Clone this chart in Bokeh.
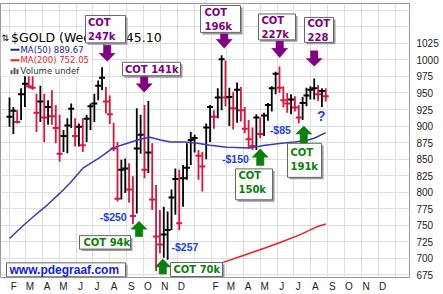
import pandas as pd
from bokeh.plotting import figure
from bokeh.models import FixedTicker, Label, ColumnDataSource
from bokeh.core.properties import value
from bokeh.embed import file_html
from bokeh.resources import INLINE

# ---------------- data ----------------
first_week = "2008-02-01"   # weekly bars, week ending Friday
n_weeks = 83
highs = [943, 929, 924, 957, 980, 995, 1033, 949, 961, 949, 939, 954, 932, 917, 894, 912, 934, 912, 904, 912,
         917, 934, 949, 969, 989, 959, 946, 905, 876, 849, 851, 844, 824, 927, 917, 932, 938, 874, 811, 773,
         778, 771, 804, 836, 834, 841, 874, 891, 887, 864, 861, 904, 932, 924, 957, 1007, 999, 958, 952, 966,
         959, 929, 909, 898, 918, 913, 920, 935, 960, 982, 990, 960, 950, 948, 945, 932, 944, 958, 960, 972,
         962, 957, 957]
lows = [899, 888, 904, 909, 929, 957, 955, 891, 906, 876, 902, 902, 874, 846, 861, 859, 897, 869, 869, 861,
        876, 894, 906, 939, 954, 919, 903, 862, 786, 789, 799, 784, 752, 768, 858, 821, 829, 773, 681, 708,
        701, 698, 743, 766, 743, 778, 819, 841, 860, 819, 801, 850, 876, 896, 912, 924, 930, 900, 895, 905,
        907, 889, 866, 864, 864, 882, 885, 908, 922, 948, 950, 928, 920, 918, 922, 904, 909, 930, 940, 940,
        938, 929, 937]
closes = [914, 923, 906, 948, 964, 960, 958, 920, 937, 913, 929, 915, 897, 858, 885, 901, 926, 885, 899, 871,
          911, 930, 934, 961, 973, 937, 918, 866, 790, 834, 836, 804, 764, 866, 887, 834, 860, 789, 733, 721,
          736, 743, 792, 820, 753, 821, 837, 879, 882, 855, 839, 898, 929, 914, 943, 1001, 943, 944, 927, 955,
          924, 896, 880, 870, 913, 888, 916, 932, 957, 979, 958, 939, 934, 940, 928, 913, 935, 946, 955, 957,
          948, 953, 945]

ma50_dates = ["2008-02-01", "2008-02-21", "2008-03-15", "2008-04-10", "2008-05-03", "2008-05-21", "2008-06-14",
              "2008-07-15", "2008-08-07", "2008-09-02", "2008-09-25", "2008-10-13", "2008-11-01", "2008-11-19",
              "2008-12-16", "2009-01-07", "2009-01-30", "2009-03-02", "2009-04-12", "2009-05-10", "2009-06-09",
              "2009-07-03", "2009-07-27", "2009-08-08", "2009-08-28"]
ma50_vals = [730, 746, 763, 781, 799, 814, 837, 853, 867, 874, 880, 883, 879, 876, 876, 874, 871, 868, 867,
             871, 874, 876, 879, 882, 890]
ma200_dates = ["2008-12-10", "2009-01-12", "2009-02-23", "2009-03-26", "2009-05-07", "2009-06-06",
               "2009-07-13", "2009-08-12", "2009-08-28"]
ma200_vals = [670, 682, 694, 703, 715, 724, 736, 748, 752]

month_labels = ["F", "M", "A", "M", "J", "J", "A", "S", "O", "N", "D", "09",
                "F", "M", "A", "M", "J", "J", "A", "S", "O", "N", "D", "10"]
price_ticks = [675, 700, 725, 750, 775, 800, 825, 850, 875, 900, 925, 950, 975, 1000, 1025]
grid_prices = price_ticks + [1050, 1075]

title_text = "$GOLD (Weekly) 945.10"
legend_ma50 = "MA(50) 889.67"
legend_ma200 = "MA(200) 752.05"
legend_vol = "Volume undef"

# ---------------- geometry of the frame ----------------
EPOCH = pd.Timestamp("2008-01-01")
PX_PER_DAY = 0.551
FW, FH = 409, 275
X0 = 31 - 9 / PX_PER_DAY
X1 = X0 + FW / PX_PER_DAY
Y_TOP = 1085.2
Y_BOT = Y_TOP - FH * 1.5055


def days(d):
    return (pd.to_datetime(d) - EPOCH).days


def dx(px):
    return X0 + px / PX_PER_DAY


def dy(py):
    return Y_TOP - (py - 3) * (Y_TOP - Y_BOT) / FH


dates = pd.date_range(first_week, periods=n_weeks, freq="7D")
xs = [(d - EPOCH).days for d in dates]
colors = ["#000000"]
for i in range(1, n_weeks):
    colors.append("#000000" if closes[i] >= closes[i - 1] else "#dc143c")

p = figure(width=443, height=294, x_range=(X0, X1), y_range=(Y_BOT, Y_TOP),
           y_axis_location="right", output_backend="svg", toolbar_location=None,
           min_border_left=0, min_border_right=34, min_border_top=3, min_border_bottom=16,
           title=None)
p.outline_line_color = "#999999"
p.background_fill_color = "white"
p.border_fill_color = "white"

# y axis
p.yaxis.ticker = FixedTicker(ticks=price_ticks)
p.yaxis.major_tick_line_color = None
p.yaxis.minor_tick_line_color = None
p.yaxis.axis_line_color = None
p.yaxis.major_tick_out = 0
p.yaxis.major_label_standoff = 7
p.yaxis.major_label_text_font = "Liberation Sans"
p.yaxis.major_label_text_font_size = "10px"
p.yaxis.major_label_text_color = "#222222"
p.ygrid[0].ticker = FixedTicker(ticks=grid_prices)

# x axis
month_starts = pd.date_range("2008-02-01", periods=len(month_labels), freq="MS")
month_ticks = [(m - EPOCH).days for m in month_starts]
label_ticks = [t + 8 for t in month_ticks]
p.xaxis.ticker = FixedTicker(ticks=label_ticks)
overrides = {}
for t, lab in zip(label_ticks, month_labels):
    overrides[t] = "" if lab.isdigit() else lab
p.xaxis.major_label_overrides = overrides
p.xaxis.major_tick_line_color = None
p.xaxis.minor_tick_line_color = None
p.xaxis.axis_line_color = None
p.xaxis.major_tick_out = 0
p.xaxis.major_label_standoff = 3
p.xaxis.major_label_text_font = "Liberation Sans"
p.xaxis.major_label_text_font_size = "10px"
p.xaxis.major_label_text_color = "#222222"
p.xgrid[0].ticker = FixedTicker(ticks=month_ticks)
for g in (p.xgrid[0], p.ygrid[0]):
    g.grid_line_color = "#dedede"
    g.grid_line_width = 1

for t, lab in zip(month_ticks, month_labels):
    if lab.isdigit():
        p.add_layout(Label(x=t + 4, y=-8.5, x_units="data", y_units="screen", text=lab,
                           text_font="Liberation Sans", text_font_size="11px", text_font_style="bold",
                           text_align="center", text_baseline="middle", text_color="#111111"))

# ---------------- price bars ----------------
src = ColumnDataSource(dict(x=xs, h=highs, l=lows, c=closes, color=colors))
p.segment(x0="x", y0="l", x1="x", y1="h", line_color="color", line_width=1.8, source=src)
p.scatter(x="x", y="c", marker="dash", size=6, line_color="color", line_width=2, source=src)

# moving averages
p.line([days(d) for d in ma50_dates], ma50_vals, line_color="#3a3ab4", line_width=1.5)
p.line([days(d) for d in ma200_dates], ma200_vals, line_color="#ee2020", line_width=1.5)

# ---------------- legend block ----------------
p.quad(left=[X0], right=[dx(90)], top=[dy(31)], bottom=[dy(76)], fill_color="white", line_color=None)


def txt(px, py, s, size, color, font="DejaVu Sans", bold=False, align="left"):
    p.text(x=[dx(px)], y=[dy(py)], text=[s], text_font=value(font), text_font_size=size,
           text_font_style="bold" if bold else "normal", text_color=color,
           text_baseline="middle", text_align=align)


txt(1, 37.5, "\u21c5", "9px", "#000000")
txt(10.5, 37.5, title_text, "12.5px", "#000000")
p.segment(x0=[dx(10)], y0=[dy(49.3)], x1=[dx(19)], y1=[dy(49.3)], line_color="#22229a", line_width=2)
txt(20, 49.3, legend_ma50, "8.5px", "#22228a")
p.segment(x0=[dx(10)], y0=[dy(60)], x1=[dx(19)], y1=[dy(60)], line_color="#ee2020", line_width=2)
txt(20, 60, legend_ma200, "8.5px", "#e8202a")
p.quad(left=[dx(10), dx(13), dx(16)], right=[dx(12), dx(15), dx(18)],
       top=[dy(70), dy(67.5), dy(69)], bottom=[dy(74), dy(74), dy(74)],
       fill_color="#555555", line_color=None)
txt(20, 70.5, legend_vol, "8.5px", "#333333")

# ---------------- annotations ----------------
PURPLE = "#800080"
GREEN = "#0a800a"
BLUE = "#2342dd"


def box(x0, y0, x1, y1):
    p.quad(left=[dx(x0 + 2)], right=[dx(x1 + 2)], top=[dy(y0 + 2)], bottom=[dy(y1 + 2)],
           fill_color="#9a9a9a", line_color=None)
    p.quad(left=[dx(x0)], right=[dx(x1)], top=[dy(y0)], bottom=[dy(y1)],
           fill_color="white", line_color="#666666", line_width=1)


def arrow(cx, y0, yb, tip, color, sw=3.7, hw=8):
    pts = [(cx - sw, y0), (cx + sw, y0), (cx + sw, yb), (cx + hw, yb), (cx, tip), (cx - hw, yb), (cx - sw, yb)]
    p.patch([dx(a) for a, b in pts], [dy(b) for a, b in pts], fill_color=color, line_color=color,
            line_width=0.5)


cot_font = "DejaVu Sans"
cs = "10px"
# purple COT boxes
box(85, 15, 125, 42.5)
txt(87.5, 22, "COT", cs, PURPLE, cot_font, True)
txt(87.5, 36, "247k", cs, PURPLE, cot_font, True)
arrow(106.7, 45, 53, 61, PURPLE)

box(122, 62, 180, 75.5)
txt(124.5, 68.8, "COT 141k", cs, PURPLE, cot_font, True)
arrow(143.7, 76.5, 83.5, 92, PURPLE)

box(200, 5, 240, 32)
txt(204, 12, "COT", cs, PURPLE, cot_font, True)
txt(204, 26, "196k", cs, PURPLE, cot_font, True)
arrow(223.7, 33.5, 39, 48, PURPLE)

box(258, 13.5, 295, 39.5)
txt(261, 20, "COT", cs, PURPLE, cot_font, True)
txt(261, 34, "227k", cs, PURPLE, cot_font, True)
arrow(279.2, 41, 48, 57.3, PURPLE)

box(304, 17, 333, 42)
txt(307, 23, "COT", cs, PURPLE, cot_font, True)
txt(307, 36.5, "228", cs, PURPLE, cot_font, True)
arrow(313.7, 50.5, 58.3, 66, PURPLE)

# green COT boxes and arrows
box(79, 236, 130, 249.5)
txt(83, 242.8, "COT 94k", cs, GREEN, cot_font, True)
arrow(138.5, 237, 229.5, 221.5, GREEN)

box(170, 263, 222, 277)
txt(173, 270.3, "COT 70k", cs, GREEN, cot_font, True)
arrow(162.3, 274.5, 267.5, 259.5, GREEN)

box(235, 169, 272, 200)
txt(238, 175.8, "COT", cs, GREEN, cot_font, True)
txt(238, 189.8, "150k", cs, GREEN, cot_font, True)
arrow(259.7, 165.5, 157.3, 148.8, GREEN)

box(287, 143.3, 321, 177.5)
txt(290, 152.3, "COT", cs, GREEN, cot_font, True)
txt(290, 166.3, "191k", cs, GREEN, cot_font, True)
arrow(303.3, 143, 134, 126, GREEN)

# blue price-drop texts
bf = "Liberation Sans"
txt(99.3, 217.2, "-$250", "10.5px", BLUE, bf, True)
txt(171, 247.7, "-$257", "10.5px", BLUE, bf, True)
txt(221.5, 159.2, "-$150", "10.5px", BLUE, bf, True)
txt(269.3, 129.9, "-$85", "10.5px", BLUE, bf, True)
txt(316.5, 116.3, "?", "14px", BLUE, bf, True)

# web address box
box(6, 263.3, 125, 277.3)
txt(9, 270.5, "www.pdegraaf.com", "12px", "#1020e6", bf, True)

# small labels at the top of the right axis
for s, yy in (("30", 278 - 5.5), ("10", 278 - 17.5)):
    p.add_layout(Label(x=415, y=yy, x_units="screen", y_units="screen", text=s,
                       text_font="Liberation Sans", text_font_size="9.5px", text_baseline="middle",
                       text_align="left", text_color="#222222"))

open("out.html", "w").write(file_html(p, INLINE))
